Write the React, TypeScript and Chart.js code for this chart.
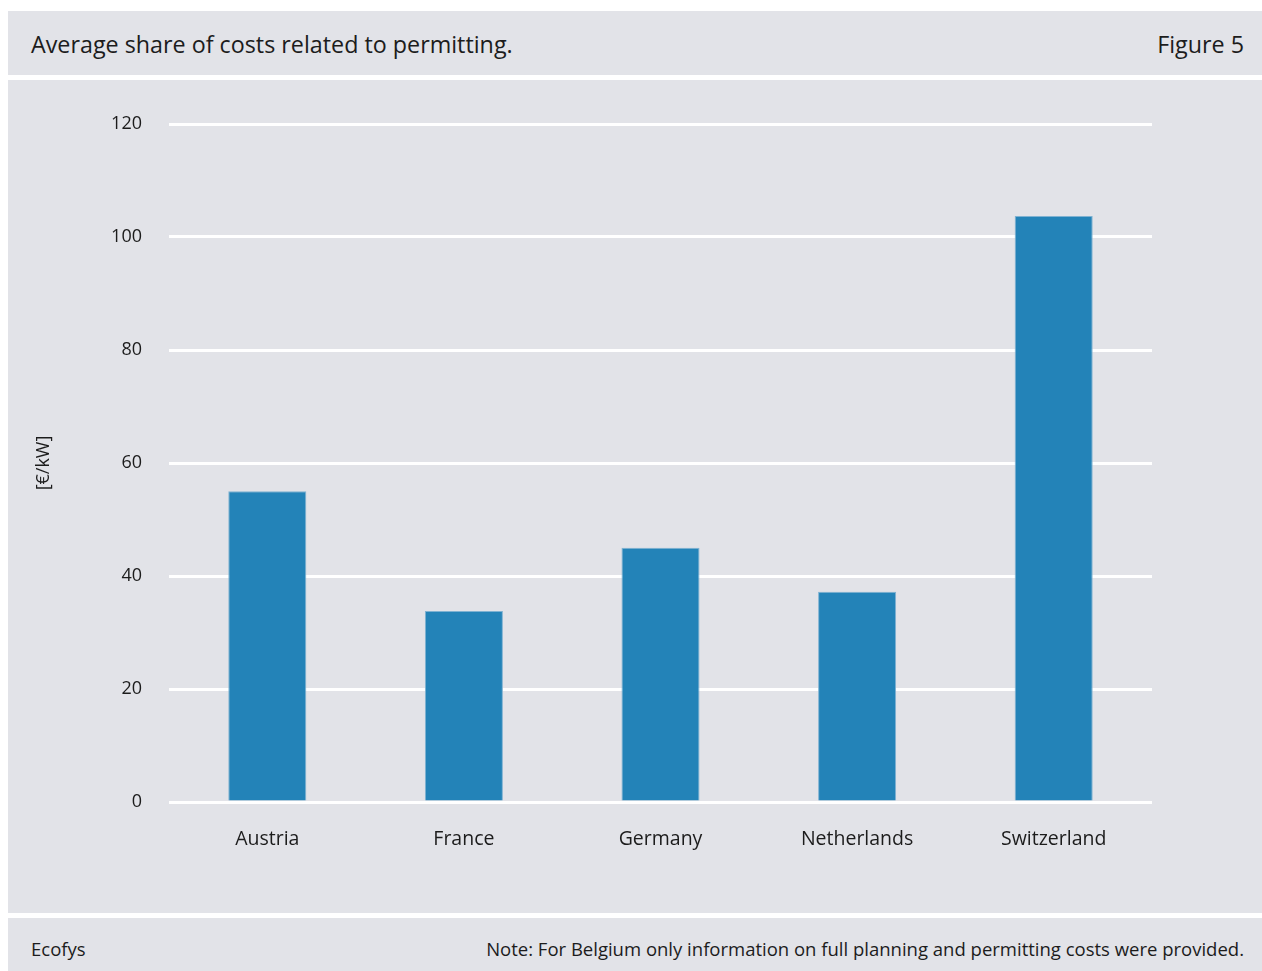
import React, { useEffect, useRef } from "react";
import { Chart, registerables } from "chart.js";

Chart.register(...registerables);

const categories = ["Austria", "France", "Germany", "Netherlands", "Switzerland"];
const values = [55, 33.8, 45, 37.2, 103.7];
const yTickValues = [0, 20, 40, 60, 80, 100, 120];
const titleText = "Average share of costs related to permitting.";
const figureLabel = "Figure 5";
const yAxisTitle = "[€/kW]";
const sourceText = "Ecofys";
const noteText = "Note: For Belgium only information on full planning and permitting costs were provided.";

const BG = "#e2e3e8";
const BAR = "#2383b8";
const TEXT = "#1c1c1c";
const FONT = "'Open Sans', 'DejaVu Sans', sans-serif";

export default function App() {
  const canvasRef = useRef<HTMLCanvasElement | null>(null);

  useEffect(() => {
    const canvas = canvasRef.current;
    if (!canvas) return;
    const chart = new Chart(canvas, {
      type: "bar",
      data: {
        labels: categories,
        datasets: [
          {
            data: values,
            backgroundColor: BAR,
            borderColor: "#7fb2d2",
            borderWidth: 1,
            borderSkipped: "start",
            barPercentage: 0.397,
            categoryPercentage: 1,
          },
        ],
      },
      options: {
        responsive: false,
        animation: false,
        devicePixelRatio: 1,
        layout: { padding: { left: 10, top: 44, right: 110, bottom: 0 } },
        plugins: {
          legend: { display: false },
          tooltip: { enabled: false },
        },
        scales: {
          x: {
            grid: { display: false },
            border: { display: false },
            ticks: {
              color: TEXT,
              font: { family: FONT, size: 19.5 },
              padding: 18,
              maxRotation: 0,
            },
            afterFit: (scale: any) => {
              scale.height = 111;
            },
          },
          y: {
            min: 0,
            max: 120,
            afterBuildTicks: (scale: any) => {
              scale.ticks = yTickValues.map((v) => ({ value: v }));
            },
            grid: { color: "#ffffff", lineWidth: 3, drawTicks: false },
            border: { display: false },
            ticks: {
              color: TEXT,
              font: { family: FONT, size: 18 },
              padding: 27,
            },
            title: {
              display: true,
              text: yAxisTitle,
              color: TEXT,
              font: { family: FONT, size: 18 },
              padding: { top: 15, bottom: 0 },
            },
            afterFit: (scale: any) => {
              scale.width = 151;
            },
          },
        },
      },
    });
    return () => chart.destroy();
  }, []);

  const panel: React.CSSProperties = {
    position: "absolute",
    left: 8,
    right: 0,
    background: BG,
  };

  return (
    <div
      style={{
        position: "absolute",
        left: 0,
        top: 0,
        width: 1262,
        height: 971,
        overflow: "hidden",
        background: "#ffffff",
        fontFamily: FONT,
        color: TEXT,
      }}
    >
      <div style={{ ...panel, top: 11, height: 64 }}>
        <div style={{ position: "absolute", left: 23, top: 0, lineHeight: "66px", fontSize: 23.3 }}>
          {titleText}
        </div>
        <div style={{ position: "absolute", right: 18, top: 0, lineHeight: "66px", fontSize: 23.3 }}>
          {figureLabel}
        </div>
      </div>
      <div style={{ ...panel, top: 80, height: 833 }}>
        <canvas ref={canvasRef} width={1254} height={833} style={{ display: "block", width: 1254, height: 833 }} />
      </div>
      <div style={{ ...panel, top: 918, height: 53 }}>
        <div style={{ position: "absolute", left: 23, top: 0, lineHeight: "62px", fontSize: 18.5 }}>
          {sourceText}
        </div>
        <div style={{ position: "absolute", right: 18, top: 0, lineHeight: "62px", fontSize: 18.5 }}>
          {noteText}
        </div>
      </div>
    </div>
  );
}
